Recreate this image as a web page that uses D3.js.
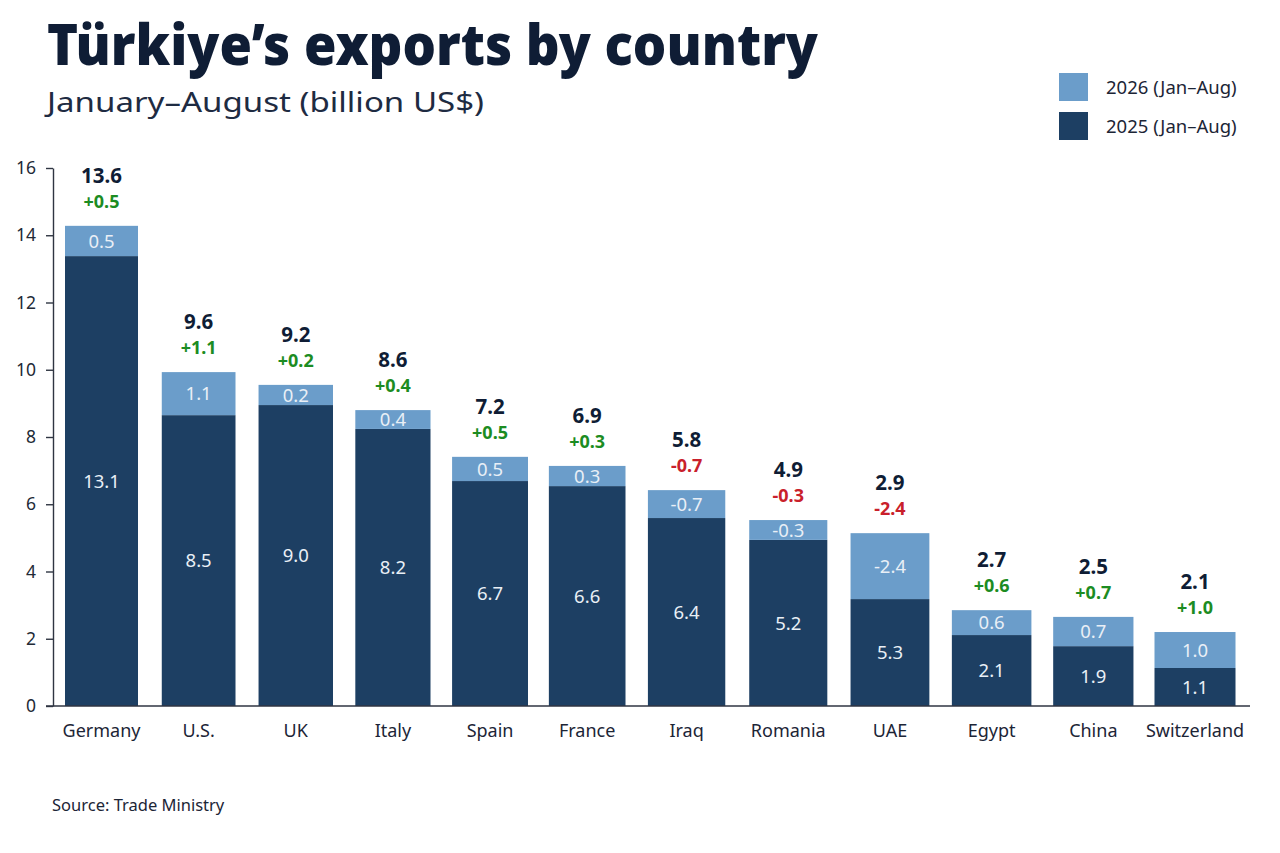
<!DOCTYPE html>
<html>
<head>
<meta charset="utf-8">
<script src="https://cdn.jsdelivr.net/npm/d3@7"></script>
<style>
  html, body { margin: 0; padding: 0; background: #ffffff; }
  svg { display: block; }
  text { font-family: "Noto Sans", "Open Sans", sans-serif; }
</style>
</head>
<body>
<svg id="chart" width="1280" height="853"></svg>
<script>
// ---- Data ----
const countries = ["Germany", "U.S.", "UK", "Italy", "Spain", "France", "Iraq", "Romania", "UAE", "Egypt", "China", "Switzerland"];
// drawn segment heights (billion US$) as they appear in the picture
const seg2025 = [13.38, 8.65, 8.95, 8.24, 6.69, 6.54, 5.59, 4.94, 3.18, 2.11, 1.78, 1.13];
const seg2026 = [0.90, 1.28, 0.60, 0.56, 0.72, 0.60, 0.83, 0.59, 1.96, 0.74, 0.87, 1.07];
// printed labels
const totalLabels = ["13.6", "9.6", "9.2", "8.6", "7.2", "6.9", "5.8", "4.9", "2.9", "2.7", "2.5", "2.1"];
const changeLabels = ["+0.5", "+1.1", "+0.2", "+0.4", "+0.5", "+0.3", "-0.7", "-0.3", "-2.4", "+0.6", "+0.7", "+1.0"];
const label2025 = ["13.1", "8.5", "9.0", "8.2", "6.7", "6.6", "6.4", "5.2", "5.3", "2.1", "1.9", "1.1"];
const label2026 = ["0.5", "1.1", "0.2", "0.4", "0.5", "0.3", "-0.7", "-0.3", "-2.4", "0.6", "0.7", "1.0"];
const yTicks = [0, 2, 4, 6, 8, 10, 12, 14, 16];
const seriesKeys = ["y2025", "y2026"];
const legendLabels = ["2026 (Jan\u2013Aug)", "2025 (Jan\u2013Aug)"];

const titleText = "T\u00fcrkiye\u2019s exports by country";
const subtitleText = "January\u2013August (billion US$)";
const sourceText = "Source: Trade Ministry";

// ---- Styles ----
const C = {
  dark: "#1d3f63",
  light: "#6b9dca",
  title: "#0f1d35",
  text: "#1c2536",
  axis: "#2f3542",
  green: "#1c8c22",
  red: "#c9202b",
  inner: "#e9eff6"
};

const svg = d3.select("#chart");

// ---- Scales ----
const idx = d3.range(countries.length);
const x = d3.scaleLinear().domain([0, 5.5, 11]).range([101.5, 635.75, 1195]);
const bw = d3.scaleLinear().domain([0, 11]).range([73, 81]);
const y = d3.scaleLinear().domain([0, 16]).range([706, 168]);

const table = idx.map(i => ({ i, y2025: seg2025[i], y2026: seg2026[i] }));
const stacked = d3.stack().keys(seriesKeys)(table);
const colorOf = { y2025: C.dark, y2026: C.light };

// ---- Title ----
svg.append("text")
  .attr("x", 47).attr("y", 65)
  .attr("font-size", 57).attr("font-weight", 900)
  .attr("fill", C.title)
  .attr("textLength", 771).attr("lengthAdjust", "spacingAndGlyphs")
  .text(titleText);

svg.append("text")
  .attr("x", 47).attr("y", 112)
  .attr("font-size", 28).attr("font-weight", 400)
  .attr("fill", "#1e2b42")
  .attr("textLength", 437).attr("lengthAdjust", "spacingAndGlyphs")
  .text(subtitleText);

// ---- Legend ----
const legendColors = [C.light, C.dark];
const lg = svg.append("g");
legendLabels.forEach((lab, k) => {
  lg.append("rect")
    .attr("x", 1059).attr("y", 73 + k * 39)
    .attr("width", 29).attr("height", 28)
    .attr("fill", legendColors[k]);
  lg.append("text")
    .attr("x", 1106).attr("y", 94 + k * 39)
    .attr("font-size", 18.5)
    .attr("fill", C.text)
    .text(lab);
});

// ---- Bars ----
const barG = svg.append("g");
stacked.forEach(layer => {
  barG.append("g")
    .selectAll("rect")
    .data(layer)
    .join("rect")
    .attr("x", d => x(d.data.i) - bw(d.data.i) / 2)
    .attr("width", d => bw(d.data.i))
    .attr("y", d => y(d[1]))
    .attr("height", d => y(d[0]) - y(d[1]))
    .attr("fill", colorOf[layer.key]);
});

// ---- Inner labels ----
const lay25 = stacked[0], lay26 = stacked[1];
svg.append("g").selectAll("text")
  .data(lay25)
  .join("text")
  .attr("x", d => x(d.data.i))
  .attr("y", d => (y(d[0]) + y(d[1])) / 2)
  .attr("dy", "0.36em")
  .attr("text-anchor", "middle")
  .attr("font-size", 18.5)
  .attr("fill", C.inner)
  .text(d => label2025[d.data.i]);

svg.append("g").selectAll("text")
  .data(lay26)
  .join("text")
  .attr("x", d => x(d.data.i))
  .attr("y", d => (y(d[0]) + y(d[1])) / 2)
  .attr("dy", "0.36em")
  .attr("text-anchor", "middle")
  .attr("font-size", 18.5)
  .attr("fill", C.inner)
  .text(d => label2026[d.data.i]);

// ---- Top labels ----
svg.append("g").selectAll("text")
  .data(lay26)
  .join("text")
  .attr("x", d => x(d.data.i))
  .attr("y", d => y(d[1]) - 43)
  .attr("text-anchor", "middle")
  .attr("font-size", 20.5).attr("font-weight", 700)
  .attr("fill", C.title)
  .text(d => totalLabels[d.data.i]);

svg.append("g").selectAll("text")
  .data(lay26)
  .join("text")
  .attr("x", d => x(d.data.i))
  .attr("y", d => y(d[1]) - 18)
  .attr("text-anchor", "middle")
  .attr("font-size", 18).attr("font-weight", 700)
  .attr("fill", d => changeLabels[d.data.i].startsWith("-") ? C.red : C.green)
  .text(d => changeLabels[d.data.i]);

// ---- Axes ----
const yAxis = svg.append("g")
  .attr("transform", "translate(53,0)")
  .call(d3.axisLeft(y).tickValues(yTicks).tickFormat(d3.format("d"))
    .tickSize(7).tickPadding(10).tickSizeOuter(0));
yAxis.select(".domain").attr("stroke", C.axis).attr("stroke-width", 1.4);
yAxis.selectAll(".tick line").attr("stroke", C.axis).attr("stroke-width", 1.4);
yAxis.selectAll(".tick text")
  .attr("font-size", 17.5)
  .attr("font-family", "'Noto Sans', sans-serif")
  .attr("fill", "#222a36");

// baseline
svg.append("line")
  .attr("x1", 46).attr("x2", x(11) + 55)
  .attr("y1", y(0)).attr("y2", y(0))
  .attr("stroke", C.axis).attr("stroke-width", 1.6);

// category labels
svg.append("g").selectAll("text")
  .data(idx)
  .join("text")
  .attr("x", i => x(i))
  .attr("y", 737)
  .attr("text-anchor", "middle")
  .attr("font-size", 18)
  .attr("fill", C.text)
  .text(i => countries[i]);

// ---- Source ----
svg.append("text")
  .attr("x", 52).attr("y", 811)
  .attr("font-size", 16.5)
  .attr("fill", C.text)
  .text(sourceText);
</script>
</body>
</html>
